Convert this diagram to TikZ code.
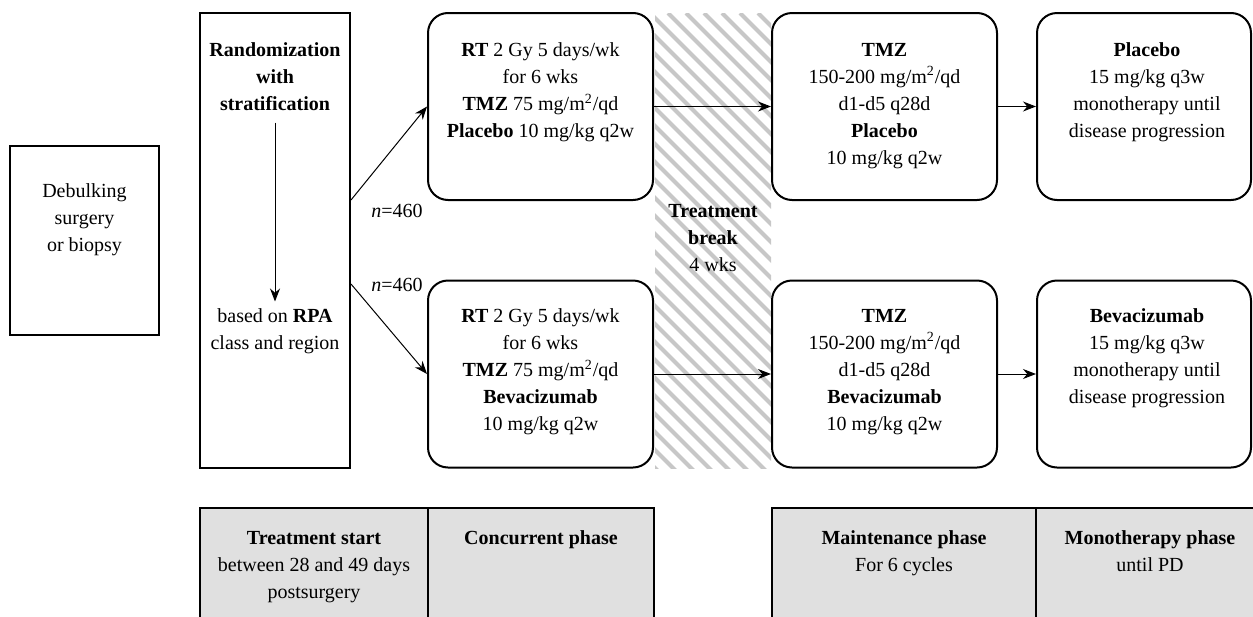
\documentclass[tikz,border=0pt]{standalone}
\usepackage{fontspec}
\setmainfont{Liberation Serif}
\usetikzlibrary{positioning,calc,arrows.meta}

\begin{document}
\begin{tikzpicture}[x=0.5pt,y=-0.5pt,
  font=\fontsize{10}{13.5}\selectfont,
  every node/.style={align=center,text depth=0.25em},
  sqbox/.style={draw,line width=1pt,inner sep=0pt},
  rbox/.style={draw,line width=1pt,rounded corners=10pt,minimum width=112.5pt,minimum height=93.5pt,inner sep=0pt},
  phasebox/.style={draw,line width=1pt,fill=black!12,inner sep=0pt,minimum height=66pt},
  flow/.style={-{Stealth[length=6.5pt,width=5pt]},line width=0.5pt},
  stripe/.style={black!22,line width=2pt}]

\clip (0,0) rectangle (1253,616);

% treatment break (hatched)
\begin{scope}
\clip (655,13) rectangle (771,468);
\foreach \k in {0,...,34}
  \draw[stripe] ({200+\k*18},13) -- ++(480,480);
\end{scope}
\node (brk) at (713,240) {\textbf{Treatment}\\\textbf{break}\\4 wks};

% surgery and randomization
\node[sqbox,minimum width=74.5pt,minimum height=94.5pt] (surg) at (84.5,240.5) {};
\node (surgtxt) at (84.5,220) {Debulking\\surgery\\or biopsy};

\node[sqbox,minimum width=75pt,minimum height=227.5pt] (rand) at (275,240.5) {};
\node (randtop) at (275,79) {\textbf{Randomization}\\\textbf{with}\\\textbf{stratification}};
\node (randlow) at (275,331.5) {based on \textbf{RPA}\\class and region};
\draw[flow] (randtop.south) -- (randlow.north);

% concurrent phase
\node[rbox] (conc1) at (540.5,106.5) {};
\node (conc1txt) at (540.5,92.5) {\textbf{RT} 2 Gy 5 days/wk\\for 6 wks\\\textbf{TMZ} 75 mg/m\textsuperscript{2}/qd\\\textbf{Placebo} 10 mg/kg q2w};
\node[rbox] (conc2) at (540.5,374) {};
\node (conc2txt) at (540.5,372) {\textbf{RT} 2 Gy 5 days/wk\\for 6 wks\\\textbf{TMZ} 75 mg/m\textsuperscript{2}/qd\\\textbf{Bevacizumab}\\10 mg/kg q2w};

% maintenance phase
\node[rbox] (main1) at (884.5,106.5) {};
\node (main1txt) at (884.5,106) {\textbf{TMZ}\\150-200 mg/m\textsuperscript{2}/qd\\d1-d5 q28d\\\textbf{Placebo}\\10 mg/kg q2w};
\node[rbox] (main2) at (884.5,374) {};
\node (main2txt) at (884.5,372) {\textbf{TMZ}\\150-200 mg/m\textsuperscript{2}/qd\\d1-d5 q28d\\\textbf{Bevacizumab}\\10 mg/kg q2w};

% monotherapy phase
\node[rbox,minimum width=107pt] (mono1) at (1144,106.5) {};
\node (mono1txt) at (1147,92.5) {\textbf{Placebo}\\15 mg/kg q3w\\monotherapy until\\disease progression};
\node[rbox,minimum width=107pt] (mono2) at (1144,374) {};
\node (mono2txt) at (1147,358.5) {\textbf{Bevacizumab}\\15 mg/kg q3w\\monotherapy until\\disease progression};

% arms
\coordinate (armA) at ($(rand.east)+(0,-40.5)$);
\coordinate (armB) at ($(rand.east)+(0,43.5)$);
\draw[flow] (armA) -- (conc1.west);
\draw[flow] (armB) -- (conc2.west);
\node (nA) at (397,213) {\textit{n}=460};
\node (nB) at (397,287) {\textit{n}=460};

\draw[flow] (conc1.east) -- (main1.west);
\draw[flow] (conc2.east) -- (main2.west);
\draw[flow] (main1.east) -- (mono1.west);
\draw[flow] (main2.east) -- (mono2.west);

% phases
\node[phasebox,minimum width=114pt] (ph1) at (314,574) {};
\node[phasebox,minimum width=113pt] (ph2) at (541,574) {};
\node[phasebox,minimum width=132pt] (ph3) at (904,574) {};
\node[phasebox,minimum width=117pt] (ph4) at (1153,574) {};
\node (ph1txt) at (314,567) {\textbf{Treatment start}\\between 28 and 49 days\\postsurgery};
\node (ph2txt) at (541,540) {\textbf{Concurrent phase}};
\node (ph3txt) at (904,553.5) {\textbf{Maintenance phase}\\For 6 cycles};
\node (ph4txt) at (1150,553.5) {\textbf{Monotherapy phase}\\until PD};
\end{tikzpicture}
\end{document}
